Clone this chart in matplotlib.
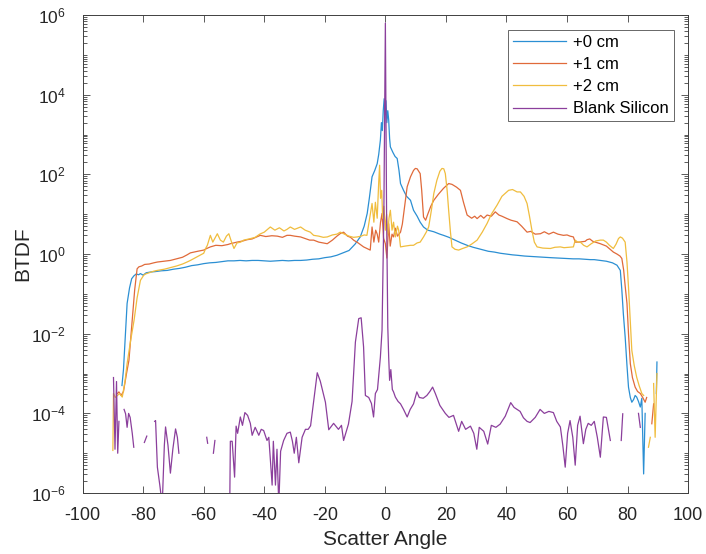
import numpy as np
import matplotlib
matplotlib.use("Agg")
import matplotlib.pyplot as plt
import matplotlib.ticker as tkr

plt.rcParams['font.family'] = ['Liberation Sans', 'DejaVu Sans']
plt.rcParams['mathtext.fontset'] = 'custom'
plt.rcParams['mathtext.rm'] = 'Liberation Sans'
plt.rcParams['axes.unicode_minus'] = False

nan = np.nan

# values: angle (deg) and log10(BTDF)
ang_0cm = [-87.0, -86.5, -86.0, -85.3, -84.5, -83.8, -83.1, -82.3, -81.5, -80.9, -80.0, -79.0, -77.5,
           -76, -74, -72, -70, -68, -66, -64, -62, -60, -58, -56, -54, -52, -50, -48, -46, -44, -42,
           -40, -38, -36, -34, -32, -30, -28, -26, -24, -22, -20, -18, -16, -14, -12, -10, -8.3, -7,
           -6, -5.3, -4.4, -3.5, -2.7, -2.2, -1.65, -1.3, -1.0, -0.7, -0.4, -0.1, 0.2, 0.5, 0.8, 1.1,
           1.4, 1.65, 2.5, 3.2, 3.9, 4.5, 5.0, 6, 7, 8.3, 9.3, 10.5, 11.5, 12.6, 14, 16, 18, 19.2,
           21, 23, 25, 27, 29, 31, 32.4, 34, 36, 38, 40, 42, 43.5, 46, 48, 50, 52, 54.5, 57, 60, 62,
           64, 66, 67.7, 69, 71, 73, 75, 76.5, 77.6, 78.1, 78.6, 79.2, 79.8, 80.3, 80.9, 81.4, 82.0,
           82.5, 83.0, 83.6, 84.2, 84.7, 85.3, 85.8, nan, 89.5, 89.7]
log_0cm = [-3.30, -2.9, -2.2, -1.24, -0.85, -0.62, -0.55, -0.50, -0.52, -0.49, -0.53, -0.47, -0.45,
           -0.44, -0.42, -0.41, -0.38, -0.36, -0.33, -0.29, -0.27, -0.24, -0.22, -0.21, -0.19, -0.17,
           -0.17, -0.16, -0.17, -0.16, -0.16, -0.17, -0.18, -0.17, -0.16, -0.17, -0.16, -0.16, -0.15,
           -0.13, -0.12, -0.09, -0.07, -0.03, 0.03, 0.09, 0.25, 0.43, 0.7, 1.02, 1.4, 1.94, 2.1, 2.27,
           2.5, 2.86, 3.3, 3.1, 3.6, 3.9, 3.5, 3.85, 3.3, 3.6, 3.36, 2.9, 2.69, 2.55, 2.45, 2.4, 2.1,
           1.77, 1.6, 1.45, 1.35, 1.1, 0.95, 0.8, 0.68, 0.6, 0.56, 0.5, 0.47, 0.42, 0.35, 0.28, 0.22,
           0.17, 0.13, 0.10, 0.07, 0.05, 0.02, 0.0, -0.02, -0.03, -0.05, -0.06, -0.07, -0.08, -0.09,
           -0.10, -0.11, -0.12, -0.12, -0.13, -0.14, -0.14, -0.16, -0.18, -0.22, -0.28, -0.41, -0.9,
           -1.5, -2.08, -2.8, -3.34, -3.6, -3.72, -3.65, -3.55, -3.59, -3.7, -3.84, -3.62, -5.52, -4.0,
           nan, -3.5, -2.71]

ang_1cm = [-88.5, -88.0, -87.3, -86.5, -85.5, -84.7, -83.6, -82.8, -82.0, -81.4, -80.5, -79.5, -78,
           -76.5, -75.3, -73, -71, -69, -67, -65.5, -64.4, -62, -60, -59, -57.8, -56, -54, -52, -51.2,
           -49, -47, -45.7, -44, -42.5, -41.3, -39.5, -37.5, -35.7, -34, -32.5, -31.4, -30, -28, -26.5,
           -25, -23.7, -22, -20.5, -19.2, -17.5, -16, -14.8, -13.8, -12.5, -11.5, -10.5, -9, -7.2,
           -5.5, -5.0, -4.4, -3.8, -3.2, -2.7, -2.2, -1.6, -1.1, -0.6, 0.0, 0.5, 1.1, 1.6, 2.2, 2.7,
           3.3, 4.0, 5.0, 5.6, 6.2, 7.2, 8.3, 9.3, 9.9, 10.5, 11.5, 12.0, 12.6, 13.3, 14, 15, 16, 17.5,
           19.2, 20.9, 22, 23.5, 24.8, 25.8, 27, 28.5, 29.5, 30.3, 31.5, 32.5, 33.6, 35, 36.3, 37.5,
           38.5, 40.2, 41.5, 43.5, 45, 46.8, 48, 49.5, 51.2, 52.5, 54, 55.5, 57, 58.8, 60, 61, 62.1,
           62.7, 64, 66, 66.6, 67.5, 68.5, 71, 73, 75.3, 76.5, 77.5, 78.1, 78.7, 79.2, 79.8, 80.3, 80.9,
           81.6, 82.5, 83.3, 84.2, 85.0, 85.8, 86.3, nan, 88.0, 88.6]
log_1cm = [-3.5, -3.46, -3.55, -3.45, -3.0, -2.67, -1.66, -0.9, -0.37, -0.32, -0.3, -0.26, -0.25,
           -0.22, -0.2, -0.18, -0.16, -0.12, -0.08, -0.02, 0.03, 0.07, 0.1, 0.14, 0.18, 0.22, 0.21,
           0.24, 0.26, 0.3, 0.33, 0.36, 0.38, 0.43, 0.47, 0.44, 0.46, 0.45, 0.42, 0.47, 0.47, 0.45,
           0.43, 0.39, 0.35, 0.35, 0.3, 0.28, 0.26, 0.35, 0.45, 0.52, 0.55, 0.45, 0.42, 0.35, 0.28,
           0.18, 0.12, 0.1, 0.68, 0.3, 0.6, 0.5, 0.3, 0.8, 1.02, 0.4, 0.26, -0.1, 0.76, 0.2, 0.5, 0.43,
           0.65, 0.45, 0.55, 0.75, 1.1, 1.69, 1.94, 2.1, 2.15, 2.14, 2.02, 1.6, 0.93, 0.85, 1.0, 1.2,
           1.35, 1.5, 1.65, 1.77, 1.75, 1.68, 1.6, 1.3, 0.98, 0.9, 0.95, 0.89, 0.97, 0.9, 0.98, 0.95,
           1.06, 0.98, 0.95, 0.89, 0.85, 0.81, 0.7, 0.55, 0.57, 0.5, 0.51, 0.56, 0.5, 0.55, 0.5, 0.47,
           0.48, 0.45, 0.43, 0.3, 0.3, 0.32, 0.36, 0.38, 0.32, 0.26, 0.2, 0.05, 0.0, -0.05, -0.11, -0.4,
           -0.8, -1.24, -2.0, -2.75, -3.1, -3.34, -3.45, -3.5, -3.6, -3.72, -3.6, nan, -4.26, -3.76]

ang_2cm = [-90.0, -89.8, -89.2, -88.5, -87.8, -86.9, -86.0, -85.3, -84.2, -83.0, -82.0, -80.9, -79.8,
           -79.2, -78, -76.5, -75.3, -73, -71, -69, -67, -65.5, -64.4, -62.5, -61, -60, -59.3, -58.8,
           -57.8, -57.0, -56.3, -55.5, -54.5, -53.5, -52.5, -51.7, -50.8, -50.0, -49, -47.8, -46.8, -45,
           -43, -41.5, -40, -38, -36.5, -35, -33.5, -32.5, -31.4, -30, -28, -26.5, -24.8, -23.7, -22,
           -20.5, -19.2, -17.5, -16, -14.9, -13.5, -12, -10.5, -9.3, -8, -7, -6.1, -5.2, -4.4, -3.8,
           -3.3, -2.7, -2.2, -1.9, -1.6, -1.2, -0.9, -0.5, 0.0, 0.4, 0.8, 1.2, 1.65, 2.2, 2.7, 3.3, 4.0,
           4.4, 5.0, 6.5, 8.3, 9.3, 10.5, 11.5, 12.6, 13.5, 14.3, 15.2, 16.0, 17.0, 18.0, 18.7, 19.3,
           19.8, 20.4, 20.9, 21.5, 22.0, 23, 24.2, 25.5, 27, 28.5, 30.3, 32, 33.6, 35, 36.9, 38.5, 40.7,
           42, 43.5, 44.6, 45.8, 46.8, 47.6, 48.4, 49.2, 50.1, 52, 54.5, 56, 57.8, 59, 60.5, 62.1, 62.7,
           63.5, 64.4, 65.5, 66.6, 68, 69.5, 71, 72, 73, 74, 75.3, 76.2, 77.0, 77.6, 78.3, 79.2, 79.8,
           80.3, 80.9, 81.4, 82.2, 83.0, 83.8, 84.7, 85.3, nan, 86.9, 87.5, nan, 88.6, 89.1, 89.7]
log_2cm = [-4.93, -3.5, -3.6, -3.55, -3.5, -3.59, -3.2, -2.75, -2.2, -1.66, -1.1, -0.66, -0.53, -0.5,
           -0.47, -0.43, -0.41, -0.38, -0.34, -0.3, -0.25, -0.2, -0.16, -0.08, -0.02, 0.02, 0.15, 0.22,
           0.47, 0.3, 0.4, 0.51, 0.35, 0.3, 0.45, 0.51, 0.3, 0.14, 0.28, 0.3, 0.35, 0.38, 0.42, 0.5,
           0.55, 0.68, 0.6, 0.66, 0.58, 0.62, 0.68, 0.62, 0.68, 0.6, 0.55, 0.47, 0.45, 0.42, 0.43, 0.48,
           0.5, 0.55, 0.5, 0.45, 0.42, 0.43, 0.45, 0.48, 0.47, 0.9, 1.27, 0.8, 1.3, 0.9, 1.8, 2.23, 1.4,
           1.6, 0.9, 1.2, 0.6, 1.0, 0.5, 0.9, 1.1, 0.6, 0.8, 0.43, 0.7, 0.6, 0.18, 0.2, 0.22, 0.22, 0.28,
           0.3, 0.43, 0.55, 0.68, 1.1, 1.52, 1.85, 2.08, 2.15, 2.14, 2.02, 1.6, 1.1, 0.55, 0.18, 0.12,
           0.1, 0.14, 0.18, 0.25, 0.35, 0.55, 0.77, 1.0, 1.23, 1.45, 1.6, 1.62, 1.56, 1.56, 1.45, 1.27,
           0.95, 0.6, 0.3, 0.18, 0.15, 0.14, 0.17, 0.18, 0.16, 0.17, 0.18, 0.35, 0.3, 0.3, 0.22, 0.18,
           0.26, 0.33, 0.35, 0.35, 0.3, 0.22, 0.14, 0.25, 0.39, 0.43, 0.4, 0.3, -0.2, -0.83, -1.7, -2.42,
           -2.8, -3.09, -3.3, -3.5, -3.55, nan, -4.85, -4.6, nan, -3.25, -4.6, -3.0]

ang_blank = [-89.8, -89.3, -88.8, -88.4, -88.0, nan, -86.3, -85.8, -85.3, -84.8, -84.3, -83.6, -83.1,
             nan, -79.6, -78.8, nan, -76.2, -75.9, -75.3, -74.5, -73.7, -73.0, -72.6, -71.8, -71.0,
             -70.2, -69.3, -68.7, -68.2, nan, -59.0, -58.7, nan, -56.8, -56.3, nan, -51.4, -51.2, -50.6,
             -49.8, -49.3, -48.8, -47.9, -47.2, -46.4, -45.5, -44.6, -44.0, -43.0, -41.8, -41.0, -40.2,
             -39.1, -38.5, -37.4, -37.0, -36.3, -35.8, -35.2, -34.6, -33.6, -32.5, -31.4, -30.7, -30.1,
             -29.4, -28.6, -27.5, -26.4, -25.5, -24.7, -23.6, -22.5, -21.5, -20.5, -19.8, -18.7, -17.1,
             -15.5, -14.5, -13.8, -12.2, -11.0, -10.4, -9.9, -8.8, -8.0, -7.2, -6.6, -5.5, -4.6, -3.9,
             -3.3, -2.6, -1.65, -1.1, -0.5, 0.0, 0.4, 0.8, 1.1, 1.4, 1.8, 2.3, 2.7, 3.3, 4.2, 5.0, 6.0,
             7.2, 8.2, 9.3, 10.4, 11.2, 12.5, 13.7, 14.7, 15.6, 16.5, 18.0, 19.8, 21, 22.5, 24.2, 25.2,
             26.5, 28.1, 29.2, 30.2, 31.0, 32.5, 33.8, 35, 36.5, 37.9, 39.6, 40.5, 41.4, 42.5, 43.5,
             44.5, 45.6, 46.8, 47.8, 49.5, 51.1, 52.5, 54, 55.5, 56.6, 57.8, 58.6, 59.4, 60.2, 61.0,
             61.9, 62.7, 63.5, 64.3, 65.4, 66.2, 67.0, 68.0, 69.0, 70.0, 71.0, 72.0, 73.0, 74.3, nan,
             77.9, 78.4, nan, 83.6, 84.2]
log_blank = [-3.1, -4.9, -3.2, -5.0, -4.2, nan, -3.9, -4.01, -4.35, -4.0, -4.1, -4.5, -4.85, nan,
             -4.73, -4.57, nan, -4.2, -4.18, -5.35, -5.8, -6.3, -4.8, -4.34, -4.8, -5.5, -4.9, -4.39,
             -4.6, -5.0, nan, -4.6, -4.75, nan, -5.0, -4.68, nan, -6.3, -4.7, -4.7, -5.6, -4.32, -4.5,
             -4.09, -4.3, -3.98, -4.05, -4.25, -4.55, -4.35, -4.55, -4.4, -4.43, -4.68, -4.6, -5.8, -4.7,
             -5.8, -4.9, -6.3, -4.95, -4.68, -4.5, -4.47, -4.7, -5.0, -4.6, -5.24, -4.6, -4.4, -4.4,
             -4.31, -3.65, -2.98, -3.19, -3.5, -3.72, -4.41, -4.25, -4.4, -4.3, -4.68, -4.27, -3.7, -2.9,
             -2.21, -1.62, -1.6, -2.33, -3.55, -3.6, -3.75, -4.09, -3.5, -3.4, -2.59, -1.91, 1.0, 5.8,
             1.0, -1.83, -2.6, -3.17, -2.9, -3.4, -3.46, -3.59, -3.7, -3.76, -3.9, -4.09, -3.9, -3.76,
             -3.46, -3.6, -3.62, -3.55, -3.45, -3.34, -3.5, -3.8, -4.0, -4.1, -4.05, -4.45, -4.2, -4.4,
             -4.32, -4.5, -4.9, -4.35, -4.45, -4.77, -4.3, -4.35, -4.27, -4.07, -3.9, -3.73, -3.85, -3.9,
             -3.95, -4.11, -4.2, -4.23, -4.1, -3.9, -4.0, -3.95, -3.98, -4.2, -4.34, -4.8, -5.35, -4.5,
             -4.18, -4.6, -5.3, -4.3, -4.07, -4.76, -4.4, -4.25, -4.3, -4.2, -4.6, -5.1, -4.09, -4.1,
             -4.68, nan, -4.68, -4.01, nan, -4.0, -4.35]

labels = ['+0 cm', '+1 cm', '+2 cm', 'Blank Silicon']
colors = ['#2b8fd3', '#e06a3a', '#f0bd3e', '#8b3f9c']

fig = plt.figure(figsize=(7.06, 5.54), dpi=100)
ax = fig.add_axes([0.117, 0.110, 0.8577, 0.8628])

series = [(ang_0cm, log_0cm), (ang_1cm, log_1cm), (ang_2cm, log_2cm), (ang_blank, log_blank)]
for (a, lg), lab, c in zip(series, labels, colors):
    ax.plot(a, 10.0 ** np.array(lg), color=c, lw=0.9, label=lab)

ax.set_yscale('log')
ax.set_xlim(-100, 100)
ax.set_ylim(1e-6, 1e6)
ax.set_xticks(np.arange(-100, 101, 20))
ax.yaxis.set_major_locator(tkr.FixedLocator([10.0 ** k for k in range(-6, 7, 2)]))
ax.yaxis.set_minor_locator(tkr.LogLocator(base=10, subs=np.arange(1, 10), numticks=100))
ax.yaxis.set_minor_formatter(tkr.NullFormatter())

ax.tick_params(which='both', direction='in', top=True, right=True, colors='#404040',
               labelcolor='#262626', labelsize=13, width=0.6)
ax.tick_params(which='major', length=5)
ax.tick_params(which='minor', length=3)
ax.tick_params(axis='x', pad=10)
ax.tick_params(axis='y', pad=12, labelsize=12.5)
for s in ax.spines.values():
    s.set_color('#404040')
    s.set_linewidth(0.7)

ax.set_xlabel('Scatter Angle', fontsize=15, color='#262626')
ax.set_ylabel('BTDF', fontsize=15, color='#262626')
ax.xaxis.set_label_coords(0.5, -0.078)
ax.yaxis.set_label_coords(-0.083, 0.5)

leg = ax.legend(loc='upper right', bbox_to_anchor=(0.976, 0.969), borderaxespad=0, fontsize=12,
                fancybox=False, edgecolor='#404040', handlelength=3.2, handletextpad=0.4,
                labelspacing=0.43, borderpad=0.3)
leg.get_frame().set_linewidth(0.7)

fig.savefig('out.png', dpi=100)
